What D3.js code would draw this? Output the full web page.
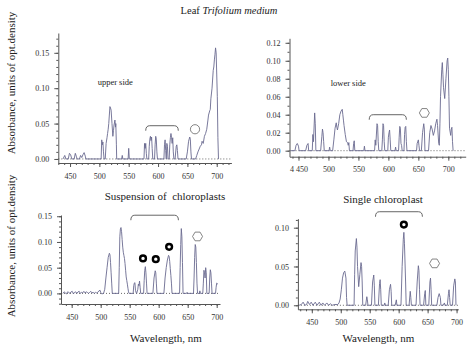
<!DOCTYPE html>
<html>
<head>
<meta charset="utf-8">
<script src="https://cdn.jsdelivr.net/npm/d3@7"></script>
<style>
  body { margin: 0; background: #fff; }
  svg { display: block; font-family: "Liberation Serif", "DejaVu Serif", serif; }
</style>
</head>
<body>
<script>
// wavelength ticks, shared by all four panels
const wavelengthTicks = [450, 500, 550, 600, 650, 700];

// absorbance ticks for each panel
const upperTicks = [0, 0.05, 0.1, 0.15];
const lowerTicks = [0, 0.02, 0.04, 0.06, 0.08, 0.1, 0.12];
const suspensionTicks = [0, 0.05, 0.1, 0.15];
const singleTicks = [0, 0.05, 0.1];

// spectra: [wavelength nm, absorbance]
const upperSide = [
  [438,0],[441,0.005],[443,0],[447,0],[449,0.008],[451,0.006],[453,0],[457,0],[459,0.008],
  [461,0.003],[462,0],[466,0],[468,0.005],[470,0.002],[472,0.006],[474,0.009],[476,0.004],
  [477,0],[503,0],[504,0.027],[505,0.02],[506,0.024],[507,0.01],[508,0],[510,0],[511.5,0.022],
  [513,0.03],[514,0.036],[515,0.042],[516,0.05],[518,0.074],[519,0.072],[520,0.069],[521.5,0.05],
  [523,0.032],[524,0.04],[525,0.048],[526.5,0.055],[527.5,0.045],[528,0.05],[529,0.02],[529.5,0],
  [538,0],[539,0.005],[540,0],[549,0],[550,0.015],[551,0],[576,0],[577,0.022],[578,0.015],
  [579,0.022],[580,0.008],[581,0],[584,0],[585,0.018],[586,0.028],[587,0.032],[588,0.026],
  [589,0.031],[590,0.015],[591,0],[594,0],[595,0.02],[596,0.032],[597,0.028],[598,0.01],[599,0],
  [610,0],[611,0.02],[612,0.027],[613,0.012],[614,0],[615,0.022],[616,0.018],[617,0],[619,0],
  [620,0.02],[621,0.03],[622,0.036],[623,0.03],[624,0.022],[625,0.03],[626,0.01],[627,0],[629,0],
  [631,0.018],[632,0.02],[633,0.012],[634,0],[648,0],[650,0.01],[652,0.025],[654,0.031],
  [655,0.028],[656,0.01],[657,0],[664,0],[666,0.005],[668,0.01],[670,0.014],[672,0.018],
  [674,0.02],[675,0.025],[677,0.022],[679,0.032],[681,0.036],[683,0.042],[685,0.055],[686,0.062],
  [688,0.068],[689,0.07],[690,0.085],[692,0.1],[694,0.125],[695,0.13],[696,0.14],[697,0.148],
  [698,0.157],[699,0.15],[700,0.12],[701,0.088],[702,0.03],[703,0]
];

const lowerSide = [
  [437,0],[444,0],[446,0.006],[448,0.008],[450,0.005],[451,0],[462,0],[464,0.006],[466,0.008],
  [467,0],[473,0],[474,0.018],[475,0.01],[477,0.042],[478,0.03],[479,0],[487,0],[489,0.016],
  [490,0.024],[491,0.02],[492,0.01],[493,0],[501,0],[502,0.004],[503,0],[507,0],[509,0.012],
  [511,0.025],[513,0.031],[514,0.026],[515,0.023],[517,0.03],[519,0.04],[521,0.044],[523,0.046],
  [524,0.04],[525,0.034],[526,0.028],[528,0.018],[530,0.01],[532,0.009],[533,0.006],[534,0.009],
  [535,0],[541,0],[542,0.008],[543,0.011],[544,0],[559,0],[560,0.005],[561,0],[577,0],
  [578,0.012],[579,0.006],[581,0.03],[582,0.028],[583,0.01],[584,0],[589,0],[590,0.012],
  [591,0.03],[592,0.028],[593,0.01],[594,0],[599,0],[600,0.015],[601,0.02],[602,0.023],
  [603,0.012],[604,0],[611,0],[612,0.004],[613,0],[617,0],[618,0.015],[619,0.027],[620,0.025],
  [621,0.008],[622,0.006],[623,0],[626,0],[627,0.018],[628,0.026],[629,0.027],[630,0.01],[631,0],
  [647,0],[648,0.008],[650,0.012],[651,0.006],[652,0],[655,0],[657,0.02],[659,0.03],[660,0.024],
  [661,0],[667,0],[669,0.02],[671,0.028],[673,0.024],[675,0.017],[677,0.022],[679,0.03],
  [681,0.035],[682,0.028],[684,0.008],[685,0.006],[686,0.03],[687,0.06],[689,0.09],[690,0.098],
  [691,0.085],[692,0.07],[694,0.058],[696,0.08],[698,0.1],[699,0.103],[700,0.09],[701,0.06],
  [702,0.025],[704,0.017],[705,0.024],[706,0.026],[707,0.01],[708,0]
];

const suspension = [
  [435,0],[437,0.003],[439,0.001],[441,-0.001],[443,0.003],[445,0.002],[447,0],[449,0.003],
  [451,0.004],[453,-0.001],[455,0.002],[457,0.003],[459,0],[461,0.003],[463,0.004],[465,0],
  [467,0.002],[469,0.001],[471,0.004],[473,0.001],[475,0.003],[477,0.002],[479,0],[481,0.002],
  [483,0.004],[485,0.001],[487,0.002],[489,0],[491,0.002],[493,0.001],[495,0.002],[497,0.005],
  [499,0.006],[500,0.002],[502,-0.001],[505,0],[507,0.008],[509,0.03],[511,0.05],[513,0.07],
  [515,0.078],[516,0.075],[517,0.06],[518,0.04],[519,0.02],[520,0],[531,0],[532,0.05],
  [533,0.11],[534,0.125],[535,0.128],[536,0.12],[537,0.105],[538,0.09],[539,0.08],[540,0.074],
  [541,0.068],[542,0.058],[543,0.045],[544,0.032],[545,0.025],[546,0.018],[547,0.01],
  [548,0.003],[549,0],[556,0],[557,0.015],[558,0.02],[559,0.021],[560,0.006],[561,0.002],
  [562,0],[564,0.008],[565,0.018],[566,0.015],[567,0.024],[568,0.012],[569,0],[574,0],
  [575,0.025],[576,0.045],[577,0.052],[578,0.04],[579,0.02],[580,0],[590,0],[592,0.03],
  [594,0.044],[595,0.04],[596,0.02],[597,0],[609,0],[611,0.03],[613,0.05],[615,0.065],
  [617,0.074],[618,0.072],[619,0.062],[620,0.048],[621,0.035],[622,0.02],[623,0],[636,0],
  [637,0.05],[638,0.095],[639,0.126],[640,0.11],[641,0.06],[642,0],[648,0],[649,0.002],[650,0],
  [660,0],[661,0.03],[662,0.07],[663,0.095],[664,0.09],[665,0.06],[666,0.02],[667,0],[670,0],
  [671,0.005],[672,0],[676,0],[677,0.02],[678,0.045],[679,0.04],[680,0.03],[681,0.05],
  [682,0.04],[683,0],[687,0],[688,0.03],[689,0.046],[690,0.04],[691,0.02],[692,0],[698,0],
  [699,0.012],[700,0.02],[702,0.018]
];

const singleChloroplast = [
  [428,0],[432,0.001],[435,0.004],[438,0],[441,0.001],[443,0.005],[446,0.001],[449,0.004],
  [452,0],[456,0.004],[459,0],[463,0.004],[466,0],[469,0.003],[472,0],[476,0.003],[479,0],
  [482,0.002],[485,0],[490,0.001],[495,0.001],[497,0.003],[499,0.008],[501,0.02],[503,0.035],
  [505,0.042],[507,0.044],[509,0.035],[510,0.01],[511,0],[523,0],[524,0.04],[525,0.07],
  [527,0.086],[528,0.075],[529,0.05],[531,0.024],[533,0.04],[535,0.055],[536,0.05],[537,0.03],
  [538,0],[543,0],[545,0.011],[546,0.007],[547,0],[553,0],[555,0.03],[557,0.039],[558,0.025],
  [559,0],[565,0],[567,0.028],[568,0.033],[569,0.02],[570,0],[575,0],[576,0.003],[577,0],
  [582,0],[584,0.02],[586,0.027],[587,0.018],[588,0],[594,0],[596,0.007],[597,0],[604,0],
  [606,0.05],[608,0.085],[609,0.094],[610,0.08],[612,0.03],[613,0],[618,0],[620,0.018],
  [621,0.01],[622,0],[630,0],[632,0.03],[634,0.051],[635,0.045],[636,0.02],[637,0],[643,0],
  [645,0.015],[646,0.019],[647,0],[652,0],[654,0.03],[655,0.035],[656,0.02],[657,0],[666,0],
  [668,0.01],[670,0.015],[672,0.01],[673,0],[677,0],[679,0.003],[680,0],[684,0],[686,0.015],
  [687,0.02],[688,0.01],[689,0],[693,0],[695,0.025],[697,0.034],[698,0.03],[699,0]
];

// annotations: brackets [from nm, to nm, level], rings and hexagons [nm, absorbance]
const upperBracket = [579, 634.5, 0.047];
const lowerBracket = [568, 630, 0.04];
const suspensionBracket = [552, 634, 0.152];
const singleBracket = [560, 641, 0.1206];
const suspensionRings = [[573, 0.068], [595, 0.0666], [618, 0.0905]];
const singleRings = [[609, 0.104]];

const width = 472,
  height = 352;

const svg = d3
  .select("body")
  .append("svg")
  .attr("width", width)
  .attr("height", height);

const lineColor = "#6a6a90";
const axisColor = "#555";

// panel layout (pixel boxes)
const panels = [
  {
    data: upperSide,
    yTicks: upperTicks,
    xDomain: [430, 725], xRange: [58.3, 231.4],
    yDomain: [-0.0057, 0.178], yRange: [163, 33],
    bracket: upperBracket, rings: [], ring6: [663, 0.042], roundMark: true,
    label: { text: "upper side", at: [527, 0.105] },
  },
  {
    data: lowerSide,
    yTicks: lowerTicks,
    xDomain: [435, 729], xRange: [289.5, 465.7],
    yDomain: [-0.0067, 0.125], yRange: [156.7, 38.3],
    bracket: lowerBracket, rings: [], ring6: [660, 0.042],
    label: { text: "lower side", at: [533, 0.072] },
    firstLabel: "4 450",
  },
  {
    data: suspension,
    yTicks: suspensionTicks,
    xDomain: [431.6, 705.7], xRange: [61, 220],
    yDomain: [-0.0206, 0.1524], yRange: [304, 215],
    bracket: suspensionBracket, rings: suspensionRings, ring6: [667, 0.1107],
  },
  {
    data: singleChloroplast,
    yTicks: singleTicks,
    xDomain: [426, 703], xRange: [297.9, 458.3],
    yDomain: [-0.0052, 0.1116], yRange: [309.3, 218.7],
    bracket: singleBracket, rings: singleRings, ring6: [662, 0.054],
  },
];

panels.forEach(drawPanel);

function drawPanel(p) {
  const x = d3.scaleLinear().domain(p.xDomain).range(p.xRange);
  const y = d3.scaleLinear().domain(p.yDomain).range(p.yRange);
  const g = svg.append("g");

  // minor ticks first (every 10 nm, every 0.01)
  const xMinor = d3.range(Math.ceil(p.xDomain[0] / 10) * 10, p.xDomain[1], 10);
  const yMinor = d3.range(Math.ceil(p.yDomain[0] / 0.01) * 0.01, p.yDomain[1], 0.01);

  g.append("g")
    .attr("transform", `translate(0,${p.yRange[0]})`)
    .call(d3.axisBottom(x).tickValues(xMinor).tickSize(2).tickFormat(""))
    .call((a) => a.select(".domain").remove());
  g.append("g")
    .attr("transform", `translate(${p.xRange[0]},0)`)
    .call(d3.axisLeft(y).tickValues(yMinor).tickSize(2).tickFormat(""))
    .call((a) => a.select(".domain").remove());

  // main axes
  const fmt = (d) => (p.firstLabel && d === 450 ? p.firstLabel : d);
  g.append("g")
    .attr("transform", `translate(0,${p.yRange[0]})`)
    .call(d3.axisBottom(x).tickValues(wavelengthTicks).tickSize(4).tickPadding(6).tickSizeOuter(0).tickFormat(fmt));
  g.append("g")
    .attr("transform", `translate(${p.xRange[0]},0)`)
    .call(d3.axisLeft(y).tickValues(p.yTicks).tickSize(4).tickPadding(5).tickSizeOuter(0).tickFormat(d3.format(".2f")));

  g.selectAll(".domain, .tick line").attr("stroke", axisColor);
  g.selectAll(".tick text")
    .attr("font-family", "Liberation Serif")
    .attr("font-size", 8)
    .attr("fill", "#333");

  // dotted zero line
  g.append("line")
    .attr("x1", x(p.xDomain[0]))
    .attr("x2", x(p.xDomain[1]))
    .attr("y1", y(0))
    .attr("y2", y(0))
    .attr("stroke", "#444")
    .attr("stroke-width", 0.8)
    .attr("stroke-dasharray", "1,2");

  // spectrum
  const line = d3.line().x((d) => x(d[0])).y((d) => y(d[1]));
  g.append("path")
    .datum(p.data)
    .attr("d", line)
    .attr("fill", "none")
    .attr("stroke", lineColor)
    .attr("stroke-width", 0.9);

  // bracket over the 570-630 nm band
  const b = p.bracket;
  const bx1 = x(b[0]),
    bx2 = x(b[1]),
    by = y(b[2]);
  g.append("path")
    .attr("d", `M${bx1},${by + 5} Q${bx1},${by} ${bx1 + 4},${by} L${bx2 - 4},${by} Q${bx2},${by} ${bx2},${by + 5}`)
    .attr("fill", "none")
    .attr("stroke", "#555")
    .attr("stroke-width", 0.9);

  // bold rings
  g.selectAll(".ring")
    .data(p.rings)
    .enter()
    .append("circle")
    .attr("cx", (d) => x(d[0]))
    .attr("cy", (d) => y(d[1]))
    .attr("r", 2.9)
    .attr("fill", "none")
    .attr("stroke", "#000")
    .attr("stroke-width", 2.4);

  // hexagon mark
  const hx = x(p.ring6[0]),
    hy = y(p.ring6[1]);
  if (p.roundMark) {
    g.append("circle")
      .attr("cx", hx)
      .attr("cy", hy)
      .attr("r", 4.6)
      .attr("fill", "none")
      .attr("stroke", "#666")
      .attr("stroke-width", 0.8);
  } else {
    const pts = d3.range(6).map((i) => {
      const a = (Math.PI / 3) * i;
      return [hx + 5 * Math.cos(a), hy + 5 * Math.sin(a)];
    });
    g.append("polygon")
      .attr("points", pts.map((q) => q.join(",")).join(" "))
      .attr("fill", "none")
      .attr("stroke", "#666")
      .attr("stroke-width", 0.8);
  }

  if (p.label) {
    g.append("text")
      .attr("x", x(p.label.at[0]))
      .attr("y", y(p.label.at[1]))
      .attr("text-anchor", "middle")
      .attr("font-size", 8.5)
      .attr("fill", "#222")
      .text(p.label.text);
  }
}

// titles
const title = svg
  .append("text")
  .attr("x", 229)
  .attr("y", 13.5)
  .attr("text-anchor", "middle")
  .attr("font-size", 10.5)
  .attr("fill", "#222");
title.append("tspan").text("Leaf ");
title.append("tspan").attr("font-style", "italic").text("Trifolium medium");

const captions = [
  { text: "Suspension of  chloroplasts", x: 165, y: 199.5 },
  { text: "Single chloroplast", x: 383, y: 203 },
  { text: "Wavelength, nm", x: 166, y: 342 },
  { text: "Wavelength, nm", x: 378.5, y: 342 },
];
svg
  .selectAll(".caption")
  .data(captions)
  .enter()
  .append("text")
  .attr("x", (d) => d.x)
  .attr("y", (d) => d.y)
  .attr("text-anchor", "middle")
  .attr("font-size", 11)
  .attr("fill", "#222")
  .style("white-space", "pre")
  .text((d) => d.text);

// rotated y labels
[
  { x: 14.5, y: 83 },
  { x: 14.5, y: 246 },
].forEach((d) => {
  svg
    .append("text")
    .attr("transform", `translate(${d.x},${d.y}) rotate(-90)`)
    .attr("text-anchor", "middle")
    .attr("font-size", 11)
    .attr("fill", "#222")
    .text("Absorbance, units of opt.density");
});
</script>
</body>
</html>
